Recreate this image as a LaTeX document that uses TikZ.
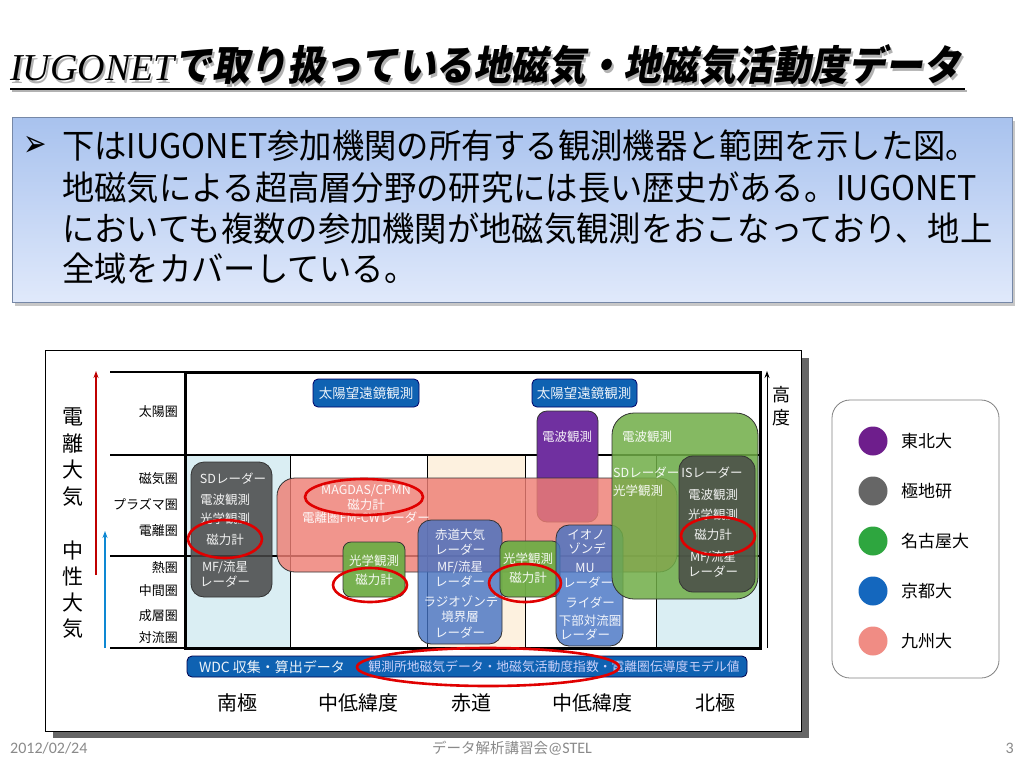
\documentclass[tikz,border=0pt]{standalone}
\usepackage{fontspec}
\usetikzlibrary{arrows.meta}
\newfontfamily\jp{Noto Sans CJK JP}
\newfontfamily\jpbody[FakeStretch=0.95]{Noto Sans CJK JP}
\newfontfamily\jptitle[FakeSlant=0.18,FakeStretch=0.915]{Noto Sans CJK JP}
\newfontfamily\titlelat{Liberation Serif}
\newfontfamily\dv{DejaVu Sans}
\newfontfamily\carl{Carlito}
\definecolor{purp}{HTML}{7030A0}
\definecolor{grn}{HTML}{70AD47}
\definecolor{blu}{HTML}{4472C4}
\definecolor{gry}{HTML}{474747}
\definecolor{pnk}{HTML}{EE7E74}
\definecolor{dblue}{HTML}{0F62B2}
\definecolor{lblue}{HTML}{DAEEF3}
\definecolor{peach}{HTML}{FDF1DF}
\definecolor{ringred}{HTML}{E00000}
\definecolor{legpurp}{HTML}{6E1E8C}
\definecolor{leggray}{HTML}{666666}
\definecolor{leggreen}{HTML}{2EA63F}
\definecolor{legblue}{HTML}{1467BE}
\definecolor{legpink}{HTML}{F08C84}
\definecolor{boxtop}{HTML}{A8C2EE}
\definecolor{boxbot}{HTML}{E0E9FB}
\definecolor{foot}{HTML}{8A8A8A}
\tikzset{
  ibox/.style={draw=black!80, line width=0.8pt},
  t/.style={text=white, text opacity=0.92, font=\jp\fontsize{12.5}{13}\selectfont, inner sep=0pt},
  rowlab/.style={anchor=east, inner sep=0pt, font=\jp\fontsize{13}{14}\selectfont},
  collab/.style={inner sep=0pt, font=\jp\fontsize{20}{22}\selectfont},
  ring/.style={draw=ringred, line width=2.6pt},
  leglab/.style={anchor=west, inner sep=0pt, font=\jp\fontsize{17}{18}\selectfont},
  bodyline/.style={anchor=base west, inner sep=0pt, font=\jpbody\fontsize{34}{36}\selectfont},
}
\begin{document}
\begin{tikzpicture}[x=1pt,y=-1pt]
\useasboundingbox (0,0) rectangle (1024,768);
\fill[white] (0,0) rectangle (1024,768);

% ---------- title ----------
\node[anchor=base west, inner sep=0pt, text=black!30] (titleshadow) at (12,83)
  {{\titlelat\itshape\fontsize{38}{40}\selectfont IUGONET}{\jptitle\bfseries\fontsize{41}{44}\selectfont で取り扱っている地磁気・地磁気活動度データ}};
\node[anchor=base west, inner sep=0pt] (title) at (10,81)
  {{\titlelat\itshape\fontsize{38}{40}\selectfont IUGONET}{\jptitle\bfseries\fontsize{41}{44}\selectfont で取り扱っている地磁気・地磁気活動度データ}};
\draw[black!30, line width=2pt] (12,91) -- (967,91);
\draw[black, line width=2pt] (10,89) -- (965,89);

% ---------- text box ----------
\fill[black!22] (15,121) rectangle (1015,306);
\shade[top color=boxtop, bottom color=boxbot] (12,117) rectangle (1012,302);
\draw[draw=boxtop!70!black, line width=0.6pt] (12,117) rectangle (1012,302);
\node[anchor=base west, inner sep=0pt, font=\dv\fontsize{28}{30}\selectfont] (bullet) at (23,156) {\scalebox{1.0}[1.35]{➢}};
\node[bodyline] (l1) at (62,158) {下はIUGONET参加機関の所有する観測機器と範囲を示した図。};
\node[bodyline] (l2) at (62,200) {地磁気による超高層分野の研究には長い歴史がある。IUGONET};
\node[bodyline] (l3) at (62,241) {においても複数の参加機関が地磁気観測をおこなっており、地上};
\node[bodyline] (l4) at (62,281) {全域をカバーしている。};

% ---------- diagram frame ----------
\fill[black!60] (53,358) rectangle (809,738);
\draw[fill=white, line width=0.8pt] (45,350) rectangle (801,731);

% column backgrounds
\fill[lblue] (185,455) rectangle (290,648);
\fill[peach] (427,455) rectangle (525,648);
\fill[lblue] (656,455) rectangle (760,648);
\foreach \xx in {290,427,525,656} \draw[line width=0.8pt] (\xx,455) -- (\xx,648);
% row lines
\draw[line width=1.2pt] (110,372) -- (185,372);
\draw[line width=2pt] (110,455) -- (760,455);
\draw[line width=2pt] (110,556) -- (760,556);
\draw[line width=1.2pt] (110,648) -- (185,648);
\draw[line width=3pt] (185,372) rectangle (760,648);
% altitude axis
\draw[line width=1pt, -{Stealth[length=7pt,width=5pt]}] (767,648) -- (767,371);
\node[inner sep=0pt, align=center, font=\jp\fontsize{18}{23}\selectfont] (koudo) at (781,406) {高\\度};
% left axes
\draw[draw=red!75!black, line width=1.3pt, -{Stealth[length=7pt,width=5pt]}] (96,575) -- (96,371);
\draw[draw=cyan!70!blue, line width=1.3pt, -{Stealth[length=7pt,width=5pt]}] (105,648) -- (105,531);
\node[inner sep=0pt, align=center, font=\jp\fontsize{21}{26.5}\selectfont] (denri) at (73,457) {電\\離\\大\\気};
\node[inner sep=0pt, align=center, font=\jp\fontsize{21}{26}\selectfont] (chusei) at (73,590) {中\\性\\大\\気};
% row labels
\node[rowlab] (r1) at (178,412) {太陽圏};
\node[rowlab] (r2) at (178,479) {磁気圏};
\node[rowlab] (r3) at (178,504) {プラズマ圏};
\node[rowlab] (r4) at (178,531) {電離圏};
\node[rowlab] (r5) at (178,568) {熱圏};
\node[rowlab] (r6) at (178,591) {中間圏};
\node[rowlab] (r7) at (178,616) {成層圏};
\node[rowlab] (r8) at (178,638) {対流圏};

% ---------- boxes ----------
% solar telescope
\draw[ibox, fill=dblue, draw=black!60!blue, rounded corners=5pt] (313,379) rectangle (419,407);
\node[t, font=\jp\fontsize{13.5}{14}\selectfont] (sol1) at (366,393) {太陽望遠鏡観測};
\draw[ibox, fill=dblue, draw=black!60!blue, rounded corners=5pt] (532,379) rectangle (637,407);
\node[t, font=\jp\fontsize{13.5}{14}\selectfont] (sol2) at (584,393) {太陽望遠鏡観測};
% purple (Tohoku)
\draw[ibox, fill=purp, rounded corners=10pt] (537,411) rectangle (598,522);
\node[t] (p1) at (567,437) {電波観測};
% gray south
\draw[ibox, fill=gry, fill opacity=0.85, rounded corners=13pt] (191,462) rectangle (272,597);
\node[t] (gs1) at (233,479) {SDレーダー};
\node[t] (gs2) at (225,500) {電波観測};
\node[t] (gs3) at (225,519) {光学観測};
\node[t] (gs4) at (225,540) {磁力計};
\node[t] (gs5) at (225,567) {MF/流星};
\node[t] (gs6) at (225,582) {レーダー};
% pink (Kyushu)
\draw[ibox, fill=pnk, fill opacity=0.82, rounded corners=18pt] (277,478) rectangle (677,572);
\node[t] (k1) at (366,491) {MAGDAS/CPMN};
\node[t] (k2) at (366,505) {磁力計};
\node[t] (k3) at (366,518) {電離圏FM-CWレーダー};
% small green left
\draw[ibox, fill=grn, fill opacity=0.95, rounded corners=8pt] (343,542) rectangle (405,597);
\node[t] (ng1) at (374,561) {光学観測};
\node[t] (ng2) at (374,580) {磁力計};
% blue left (Kyoto)
\draw[ibox, fill=blu, fill opacity=0.8, rounded corners=13pt] (418,520) rectangle (502,644);
\node[t] (b1) at (460,535) {赤道大気};
\node[t] (b2) at (460,550) {レーダー};
\node[t] (b3) at (460,567) {MF/流星};
\node[t] (b4) at (460,582) {レーダー};
\node[t] (b5) at (461,602) {ラジオゾンデ};
\node[t] (b6) at (460,617) {境界層};
\node[t] (b7) at (460,633) {レーダー};
% small green right
\draw[ibox, fill=grn, fill opacity=0.95, rounded corners=8pt] (500,541) rectangle (560,597);
\node[t] (mg1) at (528,559) {光学観測};
\node[t] (mg2) at (528,578) {磁力計};
% blue right (Kyoto)
\draw[ibox, fill=blu, fill opacity=0.8, rounded corners=13pt] (556,525) rectangle (623,646);
\node[t] (c1) at (586,535) {イオノ};
\node[t] (c2) at (587,549) {ゾンデ};
\node[t] (c3) at (585,568) {MU};
\node[t] (c4) at (588,583) {レーダー};
\node[t] (c5) at (590,603) {ライダー};
\node[t] (c6) at (590,621) {下部対流圏};
\node[t] (c7) at (585,635) {レーダー};
% green big (Nagoya)
\draw[ibox, fill=grn, fill opacity=0.85, rounded corners=22pt] (612,413) rectangle (758,599);
\node[t] (n1) at (647,437) {電波観測};
\node[t, anchor=west] (n2) at (613,473) {SDレーダー};
\node[t, anchor=west] (n3) at (613,491) {光学観測};
% gray north
\draw[ibox, fill=gry, fill opacity=0.82, rounded corners=14pt] (679,456) rectangle (755,592);
\node[t] (gn1) at (712,473) {ISレーダー};
\node[t] (gn2) at (713,495) {電波観測};
\node[t] (gn3) at (713,515) {光学観測};
\node[t] (gn4) at (713,535) {磁力計};
\node[t] (gn5) at (713,557) {MF/流星};
\node[t] (gn6) at (713,572) {レーダー};

% WDC bar
\draw[fill=dblue, draw=black!70!blue, line width=0.8pt, rounded corners=5pt] (187,656) rectangle (747,677);
\node[t, font=\jp\fontsize{14}{15}\selectfont] (wdc) at (272,667) {WDC 収集・算出データ};
\node[t, text=white!85!blue, font=\jp\fontsize{12.8}{14}\selectfont] (wdc2) at (554,667) {観測所地磁気データ・地磁気活動度指数・電離圏伝導度モデル値};

% column labels
\node[collab] (c1l) at (237,703) {南極};
\node[collab] (c2l) at (358,703) {中低緯度};
\node[collab] (c3l) at (471,703) {赤道};
\node[collab] (c4l) at (592,703) {中低緯度};
\node[collab] (c5l) at (715,703) {北極};

% red rings
\draw[ring] (225,539) ellipse [x radius=37, y radius=19];
\draw[ring] (364,497) ellipse [x radius=59, y radius=18];
\draw[ring] (370,585) ellipse [x radius=37, y radius=17];
\draw[ring] (525,583) ellipse [x radius=36, y radius=19];
\draw[ring] (718,536) ellipse [x radius=37, y radius=19];
\draw[ring] (488,667) ellipse [x radius=131, y radius=19];

% ---------- legend ----------
\draw[draw=black!50, line width=0.8pt, rounded corners=18pt] (832,400) rectangle (999,678);
\fill[legpurp] (873,441) circle (14.5);
\fill[leggray] (873,491) circle (14.5);
\fill[leggreen] (873,541) circle (14.5);
\fill[legblue] (873,591) circle (14.5);
\fill[legpink] (873,641) circle (14.5);
\node[leglab] (lg1) at (901,441) {東北大};
\node[leglab] (lg2) at (901,491) {極地研};
\node[leglab] (lg3) at (901,541) {名古屋大};
\node[leglab] (lg4) at (901,591) {京都大};
\node[leglab] (lg5) at (901,641) {九州大};

% ---------- footer ----------
\node[anchor=west, inner sep=0pt, text=foot, font=\carl\fontsize{16}{17}\selectfont] (date) at (10,748) {2012/02/24};
\node[inner sep=0pt, text=foot, font=\jp\fontsize{14.5}{16}\selectfont] (foottitle) at (512,748) {データ解析講習会{\carl\fontsize{16}{17}\selectfont @STEL}};
\node[anchor=east, inner sep=0pt, text=foot, font=\carl\fontsize{16}{17}\selectfont] (page) at (1014,748) {3};
\end{tikzpicture}
\end{document}
